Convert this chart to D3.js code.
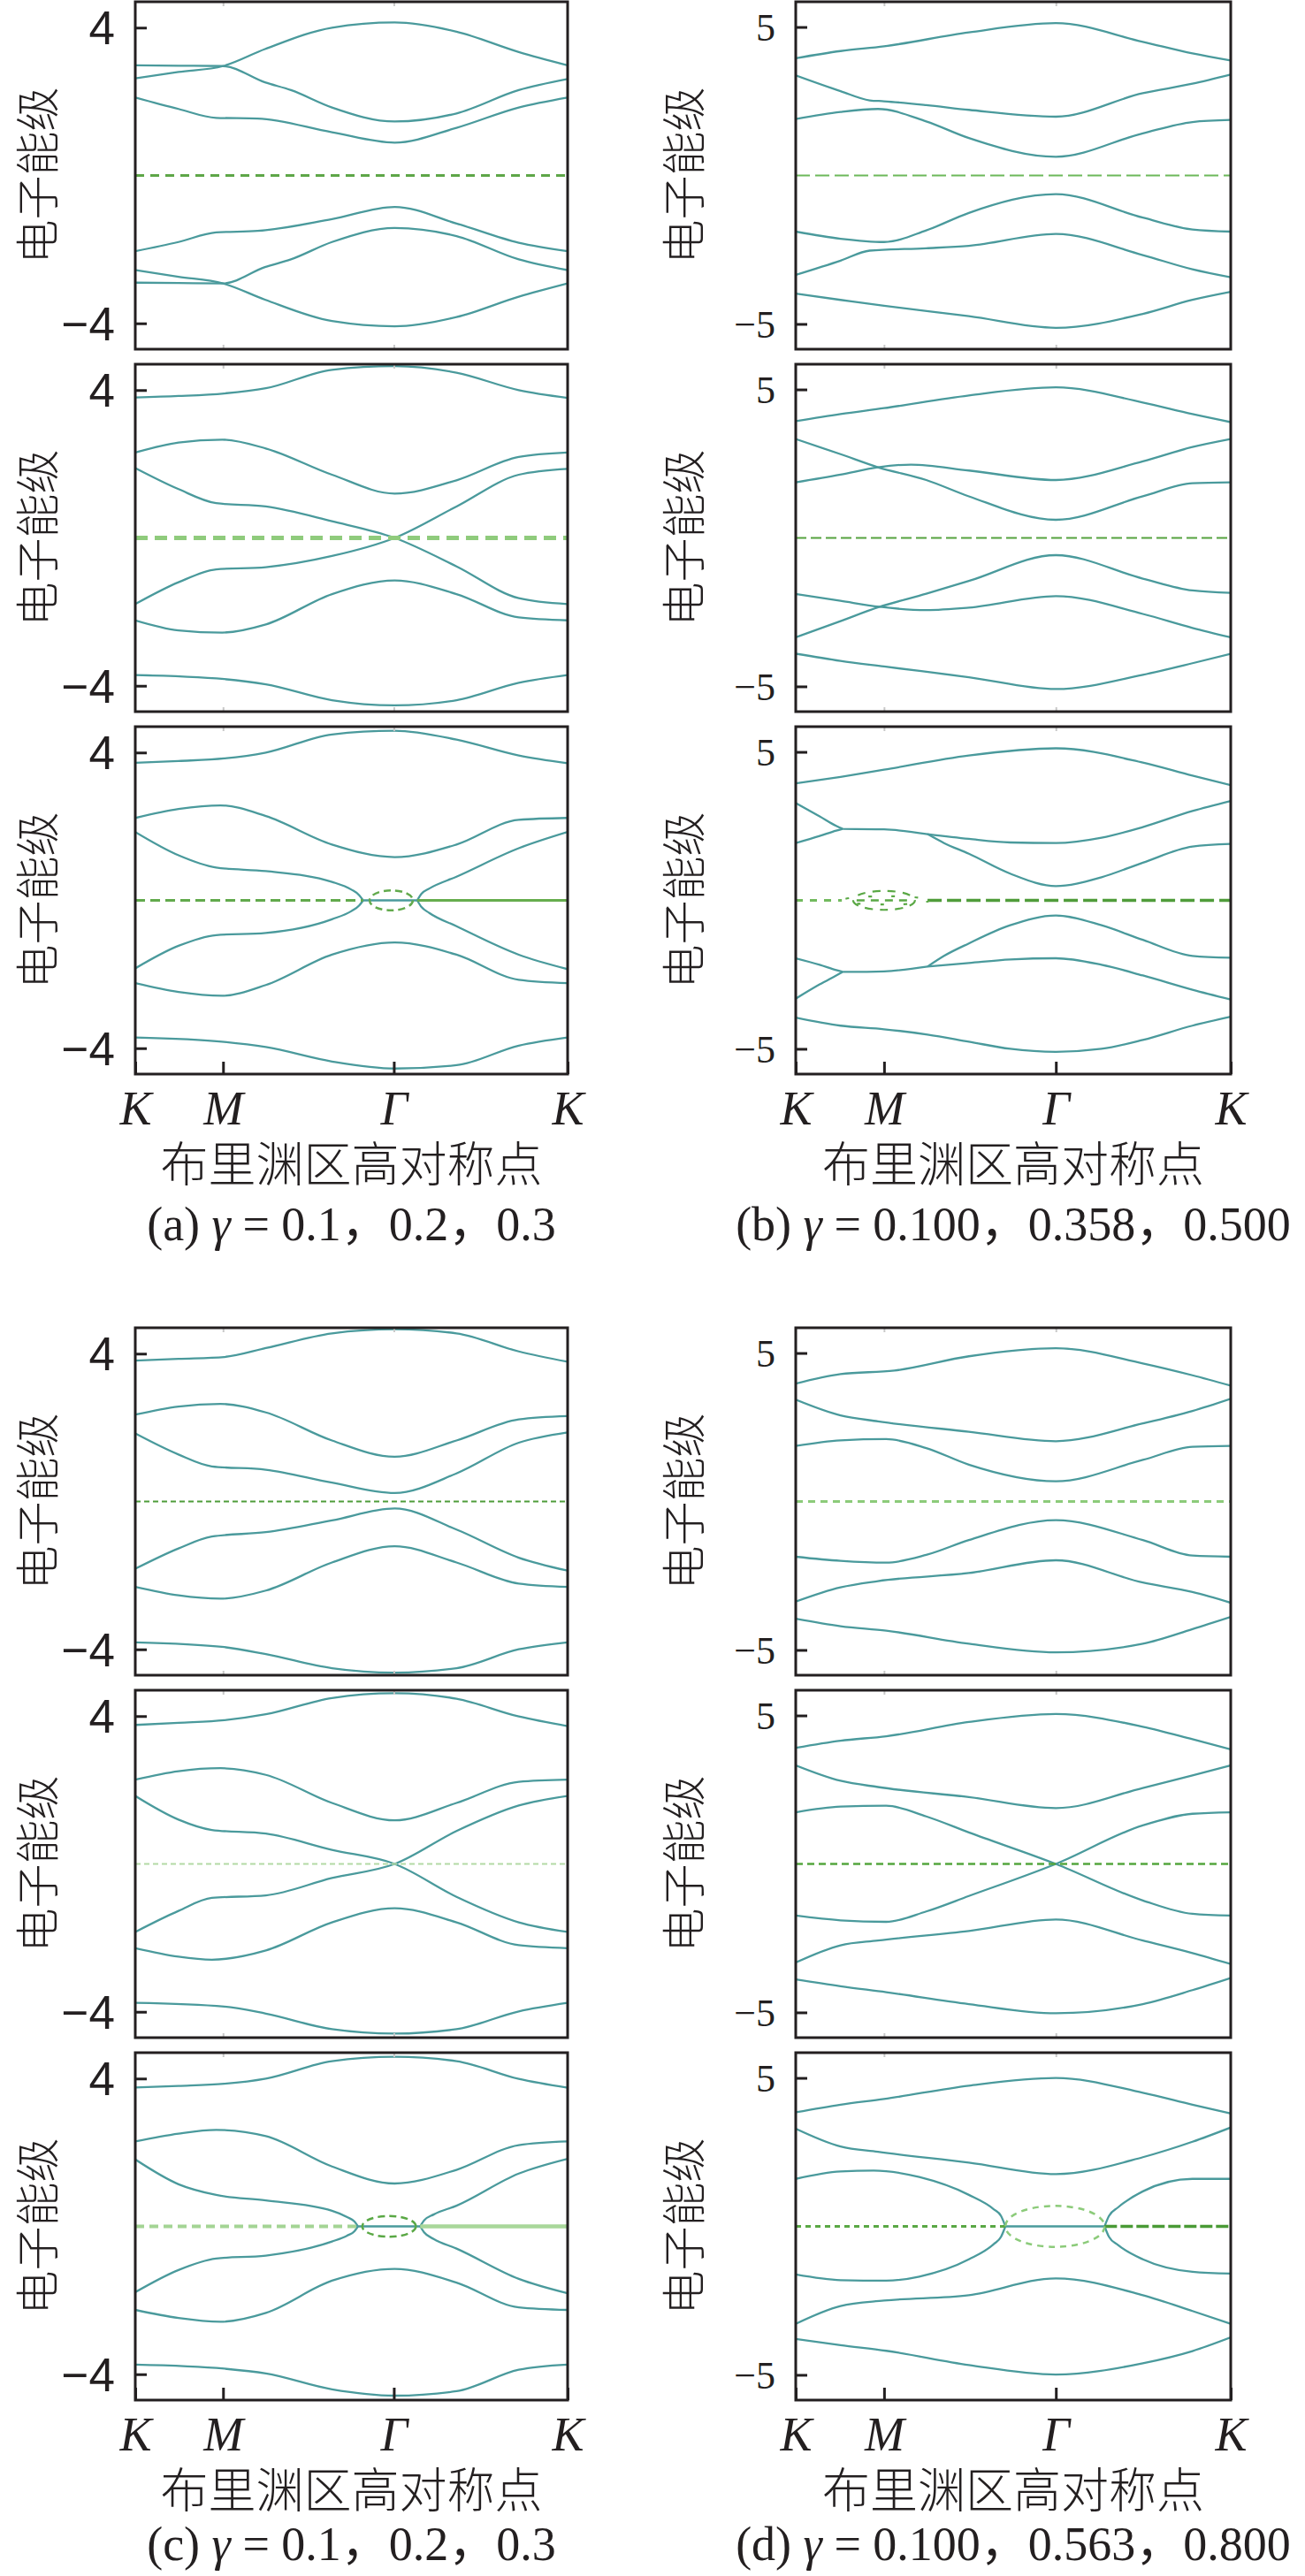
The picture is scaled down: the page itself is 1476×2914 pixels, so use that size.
<!DOCTYPE html>
<html>
<head>
<meta charset="utf-8">
<script src="https://cdn.jsdelivr.net/npm/d3@7"></script>
<style>
  body { margin: 0; background: #fff; }
</style>
</head>
<body>
<script>
// band structure panels, K - M - Γ - K path (k normalised to 0..1)
const kTicks = [0, 0.203, 0.598, 1];
const kLabels = ["K", "M", "Γ", "K"];
const yTicksA = [-4, 4];
const yTicksB = [-5, 5];
const yLabel = "电子能级";
const xLabel = "布里渊区高对称点";
const captionTags = ["(a)", "(b)", "(c)", "(d)"];
const gammaA = ["0.1", "0.2", "0.3"];
const gammaB = ["0.100", "0.358", "0.500"];
const gammaC = ["0.1", "0.2", "0.3"];
const gammaD = ["0.100", "0.563", "0.800"];

// each band: [k, E] points, null = break (exceptional point)
const bandsA1 = [
  [[0,2.63],[0.1,2.80],[0.203,2.96],[0.3,3.42],[0.455,4.0],[0.6,4.14],[0.743,3.89],[0.887,3.34],[1,2.98]],
  [[0,2.98],[0.1,2.97],[0.203,2.96],[0.3,2.52],[0.36,2.31],[0.455,1.84],[0.6,1.46],[0.743,1.68],[0.887,2.31],[1,2.61]],
  [[0,2.11],[0.1,1.80],[0.187,1.56],[0.283,1.54],[0.455,1.17],[0.6,0.89],[0.743,1.29],[0.887,1.84],[1,2.11]],
  [[0,-2.05],[0.1,-1.80],[0.187,-1.54],[0.283,-1.50],[0.455,-1.18],[0.6,-0.85],[0.743,-1.30],[0.887,-1.82],[1,-2.05]],
  [[0,-2.56],[0.1,-2.74],[0.203,-2.92],[0.3,-3.36],[0.455,-3.94],[0.6,-4.08],[0.743,-3.83],[0.887,-3.28],[1,-2.92]],
  [[0,-2.90],[0.1,-2.91],[0.203,-2.92],[0.3,-2.48],[0.36,-2.27],[0.455,-1.80],[0.6,-1.42],[0.743,-1.64],[0.887,-2.27],[1,-2.56]]
];
const bandsA2 = [
  [[0,3.80],[0.1,3.84],[0.206,3.91],[0.302,4.05],[0.455,4.55],[0.6,4.65],[0.743,4.47],[0.887,4.0],[1,3.79]],
  [[0,2.31],[0.1,2.58],[0.201,2.66],[0.302,2.42],[0.455,1.71],[0.6,1.20],[0.743,1.56],[0.887,2.19],[1,2.31]],
  [[0,1.89],[0.1,1.32],[0.187,0.94],[0.302,0.85],[0.455,0.45],[0.6,0],[0.743,-0.77],[0.887,-1.63],[1,-1.79]],
  [[0,-1.79],[0.1,-1.20],[0.187,-0.85],[0.302,-0.79],[0.455,-0.49],[0.6,0],[0.743,0.85],[0.887,1.71],[1,1.87]],
  [[0,-2.23],[0.1,-2.50],[0.201,-2.56],[0.302,-2.34],[0.455,-1.52],[0.6,-1.15],[0.743,-1.52],[0.887,-2.15],[1,-2.23]],
  [[0,-3.71],[0.206,-3.82],[0.302,-3.96],[0.455,-4.39],[0.6,-4.53],[0.743,-4.39],[0.887,-3.92],[1,-3.71]]
];
const bandsA3 = [
  [[0,3.72],[0.1,3.77],[0.206,3.84],[0.302,4.0],[0.455,4.49],[0.6,4.59],[0.743,4.35],[0.887,3.92],[1,3.71]],
  [[0,2.23],[0.1,2.47],[0.197,2.57],[0.302,2.28],[0.455,1.51],[0.6,1.17],[0.743,1.51],[0.887,2.18],[1,2.23]],
  [[0,1.85],[0.1,1.22],[0.187,0.89],[0.302,0.79],[0.455,0.50],[0.5,0.29],[0.518,0.14],[0.527,0],null,
   [0.527,0],[0.652,0],null,[0.652,0],[0.662,0.18],[0.68,0.32],[0.743,0.64],[0.887,1.41],[1,1.85]],
  [[0,-1.84],[0.1,-1.23],[0.187,-0.94],[0.302,-0.88],[0.455,-0.51],[0.5,-0.29],[0.518,-0.14],[0.527,0],null,
   [0.652,0],[0.662,-0.18],[0.68,-0.34],[0.743,-0.70],[0.887,-1.47],[1,-1.86]],
  [[0,-2.24],[0.1,-2.48],[0.201,-2.58],[0.302,-2.29],[0.455,-1.47],[0.6,-1.14],[0.743,-1.47],[0.887,-2.15],[1,-2.24]],
  [[0,-3.71],[0.206,-3.83],[0.302,-3.97],[0.455,-4.36],[0.6,-4.55],[0.743,-4.46],[0.887,-3.93],[1,-3.71]]
];
const bandsB1 = [
  [[0,3.95],[0.103,4.19],[0.203,4.35],[0.398,4.82],[0.598,5.13],[0.798,4.50],[0.912,4.11],[1,3.87]],
  [[0,3.37],[0.103,2.84],[0.17,2.53],[0.203,2.50],[0.3,2.37],[0.398,2.21],[0.598,1.98],[0.798,2.77],[0.912,3.09],[1,3.40]],
  [[0,1.90],[0.103,2.14],[0.189,2.24],[0.3,1.82],[0.398,1.26],[0.598,0.63],[0.798,1.42],[0.912,1.80],[1,1.87]],
  [[0,-1.89],[0.103,-2.13],[0.203,-2.24],[0.3,-1.85],[0.398,-1.26],[0.598,-0.63],[0.798,-1.42],[0.912,-1.82],[1,-1.89]],
  [[0,-3.35],[0.103,-2.87],[0.17,-2.53],[0.3,-2.45],[0.398,-2.37],[0.598,-1.97],[0.798,-2.68],[0.912,-3.16],[1,-3.43]],
  [[0,-3.98],[0.103,-4.19],[0.203,-4.39],[0.398,-4.74],[0.598,-5.13],[0.798,-4.66],[0.912,-4.19],[1,-3.92]]
];
const bandsB2 = [
  [[0,3.93],[0.103,4.17],[0.203,4.37],[0.398,4.80],[0.598,5.07],[0.798,4.56],[0.912,4.17],[1,3.90]],
  [[0,3.33],[0.103,2.82],[0.189,2.38],[0.3,1.95],[0.398,1.40],[0.598,0.61],[0.798,1.40],[0.912,1.84],[1,1.87]],
  [[0,1.87],[0.103,2.13],[0.189,2.38],[0.265,2.47],[0.398,2.27],[0.598,1.95],[0.798,2.58],[0.912,3.06],[1,3.33]],
  [[0,-1.89],[0.103,-2.12],[0.193,-2.32],[0.3,-2.43],[0.398,-2.35],[0.598,-1.96],[0.798,-2.56],[0.912,-3.03],[1,-3.35]],
  [[0,-3.35],[0.103,-2.80],[0.193,-2.32],[0.3,-1.88],[0.398,-1.45],[0.598,-0.58],[0.798,-1.37],[0.912,-1.77],[1,-1.85]],
  [[0,-3.90],[0.103,-4.14],[0.203,-4.33],[0.398,-4.69],[0.598,-5.09],[0.798,-4.61],[0.912,-4.22],[1,-3.90]]
];
const bandsB3 = [
  [[0,3.94],[0.103,4.16],[0.203,4.40],[0.398,4.88],[0.598,5.12],[0.798,4.64],[0.912,4.2],[1,3.88]],
  [[0,3.28],[0.055,2.83],[0.093,2.51],[0.108,2.41],null,[0.108,2.41],[0.203,2.39],[0.303,2.23],null,
   [0.303,2.23],[0.398,2.07],[0.493,1.95],[0.598,1.93],[0.703,2.11],[0.798,2.47],[0.912,3.01],[1,3.35]],
  [[0,1.93],[0.055,2.17],[0.093,2.35],[0.108,2.41],null,
   [0.303,2.23],[0.341,1.93],[0.398,1.57],[0.493,0.90],[0.598,0.48],[0.703,0.78],[0.798,1.27],[0.912,1.81],[1,1.90]],
  [[0,-1.95],[0.055,-2.17],[0.093,-2.35],[0.108,-2.41],null,
   [0.303,-2.23],[0.341,-1.87],[0.398,-1.45],[0.493,-0.84],[0.598,-0.51],[0.703,-0.84],[0.798,-1.33],[0.912,-1.87],[1,-1.93]],
  [[0,-3.31],[0.055,-2.83],[0.093,-2.53],[0.108,-2.41],null,[0.108,-2.41],[0.203,-2.39],[0.303,-2.23],null,
   [0.303,-2.23],[0.398,-2.11],[0.493,-1.99],[0.598,-1.95],[0.703,-2.17],[0.798,-2.53],[0.912,-3.01],[1,-3.34]],
  [[0,-3.95],[0.103,-4.22],[0.203,-4.34],[0.303,-4.52],[0.398,-4.76],[0.493,-5.0],[0.598,-5.10],[0.703,-5.0],[0.798,-4.70],[0.912,-4.22],[1,-3.92]]
];
const bandsC1 = [
  [[0,3.81],[0.1,3.86],[0.206,3.91],[0.302,4.15],[0.455,4.55],[0.6,4.66],[0.743,4.55],[0.887,4.06],[1,3.78]],
  [[0,2.35],[0.1,2.57],[0.197,2.64],[0.302,2.41],[0.455,1.65],[0.6,1.21],[0.743,1.65],[0.887,2.22],[1,2.31]],
  [[0,1.84],[0.1,1.27],[0.177,0.95],[0.302,0.86],[0.455,0.51],[0.6,0.23],[0.743,0.76],[0.887,1.59],[1,1.87]],
  [[0,-1.82],[0.1,-1.27],[0.177,-0.95],[0.302,-0.83],[0.455,-0.51],[0.6,-0.19],[0.743,-0.76],[0.887,-1.52],[1,-1.87]],
  [[0,-2.31],[0.1,-2.54],[0.197,-2.63],[0.302,-2.41],[0.455,-1.65],[0.6,-1.21],[0.743,-1.65],[0.887,-2.22],[1,-2.31]],
  [[0,-3.81],[0.206,-3.94],[0.302,-4.13],[0.455,-4.51],[0.6,-4.63],[0.743,-4.51],[0.887,-4.0],[1,-3.81]]
];
const bandsC2 = [
  [[0,3.76],[0.1,3.82],[0.206,3.89],[0.302,4.05],[0.455,4.49],[0.6,4.62],[0.743,4.47],[0.887,3.99],[1,3.73]],
  [[0,2.28],[0.1,2.51],[0.197,2.59],[0.302,2.41],[0.455,1.65],[0.6,1.18],[0.743,1.65],[0.887,2.22],[1,2.28]],
  [[0,1.84],[0.1,1.20],[0.177,0.92],[0.302,0.82],[0.455,0.38],[0.6,0],[0.743,-0.89],[0.887,-1.58],[1,-1.84]],
  [[0,-1.84],[0.1,-1.27],[0.177,-0.92],[0.302,-0.85],[0.455,-0.38],[0.6,0],[0.743,0.89],[0.887,1.58],[1,1.84]],
  [[0,-2.28],[0.1,-2.51],[0.177,-2.59],[0.302,-2.34],[0.455,-1.58],[0.6,-1.20],[0.743,-1.58],[0.887,-2.20],[1,-2.28]],
  [[0,-3.76],[0.206,-3.86],[0.302,-4.05],[0.455,-4.47],[0.6,-4.59],[0.743,-4.47],[0.887,-3.99],[1,-3.76]]
];
const bandsC3 = [
  [[0,3.76],[0.1,3.80],[0.206,3.86],[0.302,4.0],[0.455,4.47],[0.6,4.59],[0.743,4.47],[0.887,3.99],[1,3.75]],
  [[0,2.30],[0.1,2.51],[0.187,2.61],[0.302,2.44],[0.455,1.62],[0.6,1.16],[0.743,1.53],[0.887,2.20],[1,2.30]],
  [[0,1.81],[0.1,1.14],[0.187,0.85],[0.302,0.70],[0.455,0.42],[0.49,0.25],[0.507,0.13],[0.515,0],null,
   [0.515,0],[0.659,0],null,[0.659,0],[0.668,0.16],[0.69,0.32],[0.743,0.56],[0.887,1.43],[1,1.83]],
  [[0,-1.78],[0.1,-1.18],[0.187,-0.87],[0.302,-0.79],[0.455,-0.41],[0.49,-0.25],[0.507,-0.13],[0.515,0],null,
   [0.659,0],[0.668,-0.16],[0.69,-0.34],[0.743,-0.60],[0.887,-1.42],[1,-1.81]],
  [[0,-2.26],[0.1,-2.48],[0.197,-2.58],[0.302,-2.34],[0.455,-1.47],[0.6,-1.15],[0.743,-1.52],[0.887,-2.19],[1,-2.26]],
  [[0,-3.74],[0.206,-3.85],[0.302,-3.98],[0.455,-4.41],[0.6,-4.58],[0.743,-4.46],[0.887,-3.88],[1,-3.74]]
];
const bandsD1 = [
  [[0,3.97],[0.103,4.29],[0.227,4.41],[0.398,4.89],[0.598,5.16],[0.798,4.65],[0.912,4.25],[1,3.90]],
  [[0,3.43],[0.103,2.90],[0.189,2.70],[0.398,2.35],[0.598,2.03],[0.798,2.63],[0.912,3.05],[1,3.46]],
  [[0,1.87],[0.103,2.06],[0.208,2.10],[0.3,1.80],[0.398,1.24],[0.598,0.68],[0.798,1.40],[0.912,1.84],[1,1.87]],
  [[0,-1.86],[0.103,-2.0],[0.208,-2.06],[0.3,-1.80],[0.398,-1.30],[0.598,-0.63],[0.798,-1.30],[0.912,-1.82],[1,-1.86]],
  [[0,-3.37],[0.103,-2.89],[0.189,-2.68],[0.398,-2.41],[0.598,-1.98],[0.798,-2.73],[0.912,-3.05],[1,-3.41]],
  [[0,-3.95],[0.103,-4.20],[0.208,-4.35],[0.398,-4.79],[0.598,-5.08],[0.798,-4.79],[0.912,-4.30],[1,-3.89]]
];
const bandsD2 = [
  [[0,3.91],[0.103,4.15],[0.208,4.30],[0.398,4.78],[0.598,5.05],[0.798,4.62],[0.912,4.20],[1,3.86]],
  [[0,3.32],[0.103,2.80],[0.189,2.59],[0.398,2.25],[0.598,1.88],[0.798,2.56],[0.912,2.98],[1,3.32]],
  [[0,1.74],[0.103,1.93],[0.208,1.96],[0.3,1.60],[0.398,1.06],[0.598,0],[0.798,-1.23],[0.912,-1.68],[1,-1.74]],
  [[0,-1.74],[0.103,-1.90],[0.208,-1.95],[0.3,-1.60],[0.398,-1.08],[0.598,0],[0.798,1.30],[0.912,1.69],[1,1.74]],
  [[0,-3.32],[0.103,-2.74],[0.189,-2.58],[0.398,-2.26],[0.598,-1.87],[0.798,-2.58],[0.912,-3.0],[1,-3.37]],
  [[0,-3.89],[0.103,-4.12],[0.208,-4.32],[0.398,-4.72],[0.598,-5.03],[0.798,-4.72],[0.912,-4.25],[1,-3.84]]
];
const bandsD3 = [
  [[0,3.84],[0.103,4.10],[0.203,4.29],[0.398,4.74],[0.598,5.0],[0.798,4.50],[0.912,4.10],[1,3.80]],
  [[0,3.29],[0.103,2.69],[0.189,2.51],[0.398,2.15],[0.598,1.76],[0.798,2.33],[0.912,2.85],[1,3.33]],
  [[0,1.60],[0.103,1.85],[0.179,1.88],[0.284,1.66],[0.398,1.06],[0.455,0.58],[0.472,0.35],[0.482,0],null,
   [0.482,0],[0.710,0],null,[0.710,0],[0.72,0.35],[0.741,0.64],[0.798,1.18],[0.912,1.60],[1,1.60]],
  [[0,-1.62],[0.103,-1.81],[0.208,-1.83],[0.284,-1.69],[0.398,-1.11],[0.455,-0.60],[0.472,-0.35],[0.482,0],null,
   [0.710,0],[0.72,-0.35],[0.741,-0.63],[0.798,-1.11],[0.912,-1.53],[1,-1.59]],
  [[0,-3.28],[0.103,-2.68],[0.203,-2.50],[0.398,-2.32],[0.598,-1.75],[0.798,-2.32],[0.912,-2.85],[1,-3.28]],
  [[0,-3.79],[0.103,-4.0],[0.208,-4.19],[0.398,-4.67],[0.598,-4.99],[0.798,-4.61],[0.912,-4.20],[1,-3.74]]
];

// green E = 0 marks: line pieces and ovals (imaginary-part rings)
const zeroA1 = [{ from: 0, to: 1, look: "a1" }];
const zeroA2 = [{ from: 0, to: 1, look: "a2" }];
const zeroA3 = [{ from: 0, to: 0.527, look: "a3L" }, { from: 0.652, to: 1, look: "a3R" }];
const ovalsA3 = [{ k: 0.592, dk: 0.05, dE: 0.27, look: "a3O" }];
const zeroB1 = [{ from: 0, to: 1, look: "b1" }];
const zeroB2 = [{ from: 0, to: 1, look: "b2" }];
const zeroB3 = [{ from: 0, to: 0.106, look: "b3L" }, { from: 0.14, to: 0.268, look: "b3I" }, { from: 0.303, to: 1, look: "b3R" }];
const ovalsB3 = [{ k: 0.203, dk: 0.071, dE: 0.32, look: "b3O" }, { k: 0.207, dk: 0.1, dE: 0.14, look: "b3E" }];
const zeroC1 = [{ from: 0, to: 1, look: "c1" }];
const zeroC2 = [{ from: 0, to: 1, look: "c2" }];
const zeroC3 = [{ from: 0, to: 0.515, look: "c3L" }, { from: 0.659, to: 1, look: "c3R" }];
const ovalsC3 = [{ k: 0.587, dk: 0.062, dE: 0.28, look: "c3O" }];
const zeroD1 = [{ from: 0, to: 1, look: "d1" }];
const zeroD2 = [{ from: 0, to: 1, look: "d2" }];
const zeroD3 = [{ from: 0, to: 0.482, look: "d3L" }, { from: 0.71, to: 1, look: "d3R" }];
const ovalsD3 = [{ k: 0.596, dk: 0.114, dE: 0.69, look: "d3O" }];

const looks = {
  a1: ["#5ea648", 3, "10 7"], a2: ["#8fcb7c", 5, "14 8"],
  a3L: ["#62aa4c", 3, "11 6"], a3R: ["#66ad4e", 3, null], a3O: ["#62aa4c", 2.5, "8 5"],
  b1: ["#6db85a", 2, "16 6"], b2: ["#55a23f", 2.2, "12 5"],
  b3L: ["#72ba5e", 3, "8 8"], b3R: ["#4f9c3a", 3.5, "16 6"],
  b3O: ["#5aa845", 2.2, "9 8"], b3E: ["#5aa845", 2.2, "4 22"], b3I: ["#5aa845", 2.5, "9 7"],
  c1: ["#4f9c3a", 2, "6 4"], c2: ["#b3daa5", 2, "6 4"],
  c3L: ["#a4d494", 4, "10 6"], c3R: ["#a9d79a", 4.5, null], c3O: ["#5aa845", 2.5, "8 5"],
  d1: ["#8ccb7a", 3, "8 6"], d2: ["#55a63f", 2.5, "8 5"],
  d3L: ["#5aa845", 3, "6 5"], d3R: ["#4a9a36", 3.5, "14 4"], d3O: ["#8ccb7a", 2.5, "7 6"]
};

const panels = [
  { col: 0, row: 0, sub: 0, bands: bandsA1, zero: zeroA1, ovals: [] },
  { col: 0, row: 0, sub: 1, bands: bandsA2, zero: zeroA2, ovals: [] },
  { col: 0, row: 0, sub: 2, bands: bandsA3, zero: zeroA3, ovals: ovalsA3 },
  { col: 1, row: 0, sub: 0, bands: bandsB1, zero: zeroB1, ovals: [] },
  { col: 1, row: 0, sub: 1, bands: bandsB2, zero: zeroB2, ovals: [] },
  { col: 1, row: 0, sub: 2, bands: bandsB3, zero: zeroB3, ovals: ovalsB3 },
  { col: 0, row: 1, sub: 0, bands: bandsC1, zero: zeroC1, ovals: [] },
  { col: 0, row: 1, sub: 1, bands: bandsC2, zero: zeroC2, ovals: [] },
  { col: 0, row: 1, sub: 2, bands: bandsC3, zero: zeroC3, ovals: ovalsC3 },
  { col: 1, row: 1, sub: 0, bands: bandsD1, zero: zeroD1, ovals: [] },
  { col: 1, row: 1, sub: 1, bands: bandsD2, zero: zeroD2, ovals: [] },
  { col: 1, row: 1, sub: 2, bands: bandsD3, zero: zeroD3, ovals: ovalsD3 }
];
const groups = [
  { col: 0, row: 0, tag: captionTags[0], gamma: gammaA },
  { col: 1, row: 0, tag: captionTags[1], gamma: gammaB },
  { col: 0, row: 1, tag: captionTags[2], gamma: gammaC },
  { col: 1, row: 1, tag: captionTags[3], gamma: gammaD }
];

// layout
const colX = [153, 900], colW = [489, 492];
const rowY = [2, 1502], pitch = 410, panelH = 393;
const captionGap = [188, 181];
const yLim = [4.7, 5.85];
const ink = "#231f20";
const teal = "#4a9a9c";
const cjk = "'Noto Sans CJK SC', sans-serif";
const serif = "'Liberation Serif', 'Times New Roman', serif";
const serifCjk = "'Liberation Serif', 'Noto Sans CJK SC', serif";

const svg = d3.select("body").append("svg")
  .attr("width", 1476).attr("height", 2914);

panels.forEach((p, i) => {
  const x0 = colX[p.col], w = colW[p.col];
  const y0 = rowY[p.row] + p.sub * pitch;
  const lim = yLim[p.col];
  const x = d3.scaleLinear().domain([0, 1]).range([x0, x0 + w]);
  const y = d3.scaleLinear().domain([-lim, lim]).range([y0 + panelH, y0]);
  const g = svg.append("g");

  g.append("clipPath").attr("id", "clip" + i)
    .append("rect").attr("x", x0).attr("y", y0).attr("width", w).attr("height", panelH);

  const plot = g.append("g").attr("clip-path", `url(#clip${i})`);
  const line = d3.line()
    .defined(d => d !== null)
    .x(d => x(d[0])).y(d => y(d[1]))
    .curve(d3.curveMonotoneX);

  plot.selectAll("path.band")
    .data(p.bands)
    .enter().append("path")
    .attr("class", "band")
    .attr("d", line)
    .attr("fill", "none")
    .attr("stroke", teal)
    .attr("stroke-width", 2.3);

  // green zero-energy marks
  plot.selectAll("line.zero")
    .data(p.zero)
    .enter().append("line")
    .attr("class", "zero")
    .attr("x1", d => x(d.from)).attr("x2", d => x(d.to))
    .attr("y1", y(0)).attr("y2", y(0))
    .attr("stroke", d => looks[d.look][0])
    .attr("stroke-width", d => looks[d.look][1])
    .attr("stroke-dasharray", d => looks[d.look][2]);

  plot.selectAll("ellipse")
    .data(p.ovals)
    .enter().append("ellipse")
    .attr("cx", d => x(d.k)).attr("cy", y(0))
    .attr("rx", d => x(d.k + d.dk) - x(d.k))
    .attr("ry", d => y(0) - y(d.dE))
    .attr("fill", "none")
    .attr("stroke", d => looks[d.look][0])
    .attr("stroke-width", d => looks[d.look][1])
    .attr("stroke-dasharray", d => looks[d.look][2]);

  // faint k ticks on top (and bottom for upper panels)
  const faintTop = d3.axisTop(x).tickValues(kTicks.slice(1, 3)).tickSize(-5).tickFormat("");
  g.append("g").attr("transform", `translate(0,${y0})`).call(faintTop)
    .call(s => s.select(".domain").remove())
    .selectAll("line").attr("stroke", "#c8c8c8").attr("stroke-width", 2);

  const bottom = p.sub === 2;
  const xAxis = d3.axisBottom(x).tickValues(bottom ? kTicks : kTicks.slice(1, 3))
    .tickSize(bottom ? -14 : -5)
    .tickFormat((d, j) => bottom ? kLabels[j] : "");
  const xa = g.append("g").attr("transform", `translate(0,${y0 + panelH})`).call(xAxis);
  xa.select(".domain").remove();
  xa.selectAll("line").attr("stroke", bottom ? ink : "#c8c8c8").attr("stroke-width", bottom ? 3 : 2);
  xa.selectAll("text")
    .attr("y", 57).attr("dy", null)
    .attr("fill", ink)
    .style("font-family", serif).style("font-style", "italic").style("font-size", "54px");

  // energy axis
  const yAxis = d3.axisLeft(y).tickValues(p.col === 0 ? yTicksA : yTicksB)
    .tickSize(-13).tickPadding(23)
    .tickFormat(d => d < 0 ? "\u2212" + Math.abs(d) : String(d));
  const ya = g.append("g").attr("transform", `translate(${x0},0)`).call(yAxis);
  ya.select(".domain").remove();
  ya.selectAll("line").attr("stroke", ink).attr("stroke-width", 3);
  ya.selectAll("text")
    .attr("dy", "0.35em")
    .attr("fill", ink)
    .style("font-family", p.col === 0 ? "'Liberation Sans Narrow', 'Liberation Sans', sans-serif" : serif)
    .style("font-size", p.col === 0 ? "53px" : "44px");

  g.append("rect")
    .attr("x", x0).attr("y", y0).attr("width", w).attr("height", panelH)
    .attr("fill", "none").attr("stroke", ink).attr("stroke-width", 3);

  g.append("text")
    .attr("transform", `translate(${x0 - (p.col === 0 ? 114 : 130)},${y0 + panelH / 2}) rotate(-90)`)
    .attr("text-anchor", "middle")
    .attr("dominant-baseline", "central")
    .attr("fill", ink)
    .style("font-family", cjk).style("font-size", "50px").style("font-weight", 300)
    .text(yLabel);
});

groups.forEach(gr => {
  const cx = colX[gr.col] + colW[gr.col] / 2;
  const base = rowY[gr.row] + 2 * pitch + panelH;
  svg.append("text")
    .attr("x", cx).attr("y", base + 122)
    .attr("text-anchor", "middle").attr("fill", ink)
    .style("font-family", cjk).style("font-size", "54px").style("font-weight", 300)
    .text(xLabel);
  const cap = svg.append("text")
    .attr("x", cx).attr("y", base + captionGap[gr.row])
    .attr("text-anchor", "middle").attr("fill", ink)
    .style("font-family", serifCjk).style("font-size", "54px");
  cap.append("tspan").text(gr.tag + " ");
  cap.append("tspan").style("font-style", "italic").text("γ");
  cap.append("tspan").text(" = " + gr.gamma.join("，"));
});
</script>
</body>
</html>
